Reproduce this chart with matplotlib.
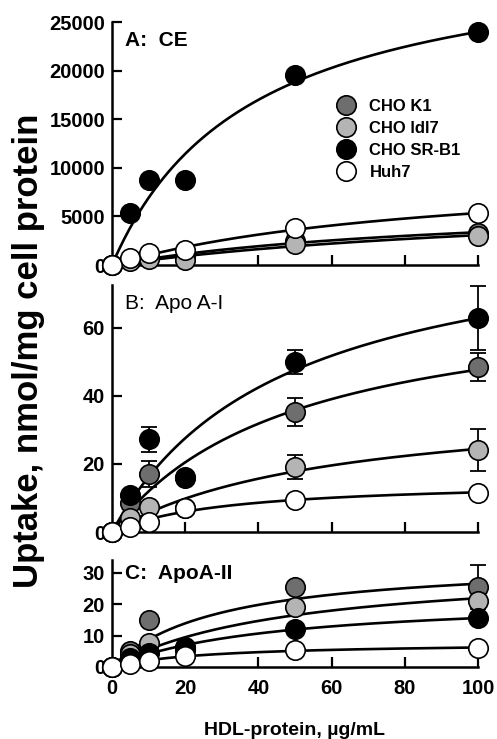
import numpy as np
import matplotlib.pyplot as plt
from matplotlib.lines import Line2D

plt.rcParams['font.family'] = ['Liberation Sans', 'DejaVu Sans']
plt.rcParams['font.weight'] = 'bold'

# HDL-protein, ug/mL
dose = [0, 5, 10, 20, 50, 100]

cell_labels = ['CHO K1', 'CHO ldl7', 'CHO SR-B1', 'Huh7']
colors = ['#6e6e6e', '#b4b4b4', '#000000', '#ffffff']

# A: CE uptake
ce_k1 = [0, 500, 800, 700, 2500, 3300]
ce_ldl7 = [0, 400, 600, 500, 2200, 3000]
ce_srb1 = [0, 5400, 8700, 8700, 19500, 24000]
ce_huh7 = [0, 700, 1200, 1500, 3800, 5300]

# B: Apo A-I uptake (mean, error)
apoa1_k1 = [0, 8.5, 17.0, 16.0, 35.3, 48.5]
apoa1_k1_err = [0, 0, 3.8, 0, 4.0, 4.0]
apoa1_ldl7 = [0, 4.1, 7.3, 7.0, 19.1, 24.1]
apoa1_ldl7_err = [0, 0, 0, 0, 3.4, 6.3]
apoa1_srb1 = [0, 10.9, 27.3, 16.2, 50.0, 62.9]
apoa1_srb1_err = [0, 0, 3.7, 0, 3.6, 9.3]
apoa1_huh7 = [0, 1.5, 3.0, 7.0, 9.4, 11.5]
apoa1_huh7_err = [0, 0, 0, 0, 0, 0]

# C: ApoA-II uptake (mean, error)
apoa2_k1 = [0, 5.0, 15.0, 6.0, 25.4, 25.4]
apoa2_k1_err = [0, 0, 0, 0, 0, 7.0]
apoa2_ldl7 = [0, 4.0, 7.6, 5.5, 19.0, 21.0]
apoa2_srb1 = [0, 3.0, 4.4, 6.3, 12.0, 15.6]
apoa2_huh7 = [0, 1.0, 2.0, 3.5, 5.4, 6.0]


def fit_hyperbola(x, y):
    """Least-squares fit of Vmax*x/(K+x)."""
    x = np.asarray(x, float)
    y = np.asarray(y, float)
    best = None
    for k in np.logspace(0, 3, 600):
        f = x / (k + x)
        vmax = np.sum(f * y) / np.sum(f * f)
        sse = np.sum((vmax * f - y) ** 2)
        if best is None or sse < best[0]:
            best = (sse, vmax, k)
    return best[1], best[2]


def draw_panel(ax, series, errors, ylim, yticks, yticklabels, title, title_weight):
    xs = np.linspace(0, 100, 300)
    for y in series:
        vmax, k = fit_hyperbola(dose, y)
        ax.plot(xs, vmax * xs / (k + xs), color='black', lw=1.9, zorder=2)
    for y, err, c in zip(series, errors, colors):
        if err is not None and any(err):
            ax.errorbar(dose, y, yerr=err, fmt='none', ecolor='black',
                        elinewidth=1.3, capsize=6, capthick=1.3, zorder=3,
                        clip_on=False)
        ax.plot(dose, y, 'o', ms=14, mfc=c, mec='black', mew=1.2,
                zorder=4, clip_on=False)
    ax.set_xlim(0, 100)
    ax.set_ylim(*ylim)
    ax.set_xticks([0, 20, 40, 60, 80, 100])
    ax.set_yticks(yticks)
    ax.set_yticklabels(yticklabels)
    ax.tick_params(direction='in', length=7, width=1.6, labelsize=14.5)
    ax.tick_params(axis='y', pad=5)
    ax.tick_params(axis='x', pad=9)
    for s in ['top', 'right']:
        ax.spines[s].set_visible(False)
    for s in ['left', 'bottom']:
        ax.spines[s].set_linewidth(1.8)
    ax.text(0.035, 0.965, title, transform=ax.transAxes, fontsize=15,
            fontweight=title_weight, va='top', ha='left')


fig = plt.figure(figsize=(4.97, 7.39), dpi=100)
W, H = 497, 739
left, right = 112 / W, 478 / W

axA = fig.add_axes([left, 1 - 265 / H, right - left, (265 - 22) / H])
axB = fig.add_axes([left, 1 - 532 / H, right - left, (532 - 285) / H])
axC = fig.add_axes([left, 1 - 667 / H, right - left, (667 - 560) / H])

draw_panel(axA, [ce_k1, ce_ldl7, ce_srb1, ce_huh7], [None] * 4,
           (0, 25000), [0, 5000, 10000, 15000, 20000, 25000],
           ['0', '5000', '10000', '15000', '20000', '25000'],
           'A:  CE', 'bold')
draw_panel(axB, [apoa1_k1, apoa1_ldl7, apoa1_srb1, apoa1_huh7],
           [apoa1_k1_err, apoa1_ldl7_err, apoa1_srb1_err, apoa1_huh7_err],
           (0, 72.6), [0, 20, 40, 60], ['0', '20', '40', '60'],
           'B:  Apo A-I', 'normal')
draw_panel(axC, [apoa2_k1, apoa2_ldl7, apoa2_srb1, apoa2_huh7],
           [apoa2_k1_err, None, None, None],
           (0, 34), [0, 10, 20, 30], ['0', '10', '20', '30'],
           'C:  ApoA-II', 'bold')

axA.set_xticklabels([])
axB.set_xticklabels([])

handles = [Line2D([], [], marker='o', ls='none', ms=14, mfc=c, mec='black', mew=1.2)
           for c in colors]
axA.legend(handles, cell_labels,
           loc='upper left', bbox_to_anchor=(0.585, 0.73), frameon=False,
           fontsize=12, handlelength=1.0, handletextpad=0.9, labelspacing=0.42,
           borderpad=0.2)

axC.set_xlabel('HDL-protein, \u00b5g/mL', fontsize=14, fontweight='bold', labelpad=17)
fig.text(0.058, 0.525, 'Uptake, nmol/mg cell protein', rotation=90,
         fontsize=25, fontweight='bold', ha='center', va='center')

fig.savefig('out.png', dpi=100)
